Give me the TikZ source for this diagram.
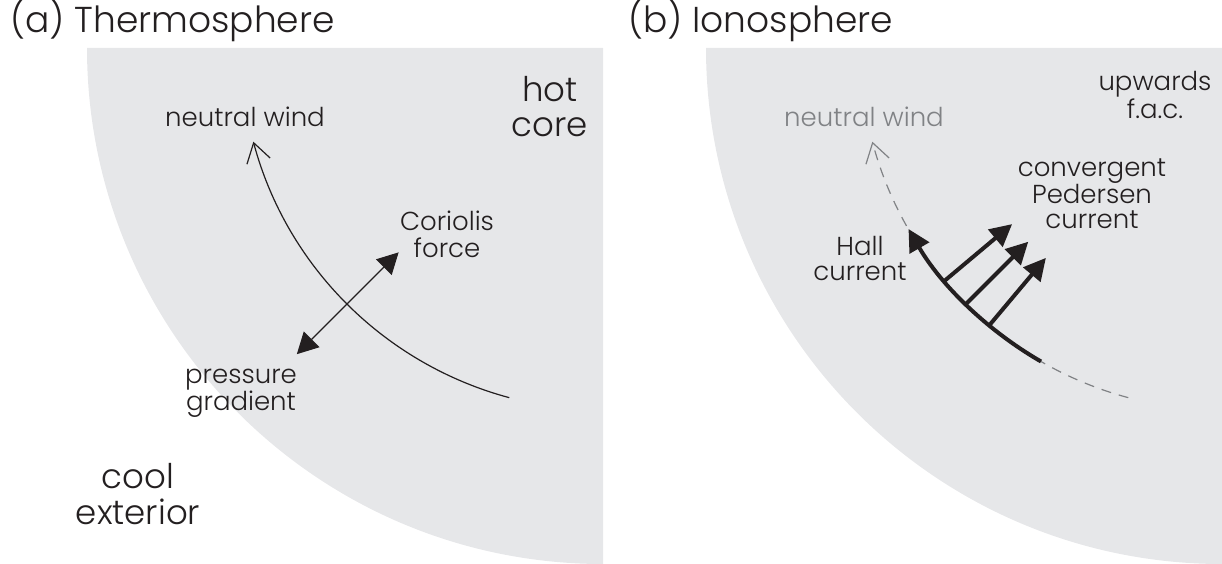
\documentclass[tikz,border=0pt]{standalone}
\usepackage{fontspec}
\setmainfont{Poppins Light}
\usetikzlibrary{arrows.meta,calc}
\definecolor{disc}{HTML}{E6E7E9}
\definecolor{ink}{HTML}{231F20}
\definecolor{faint}{HTML}{808285}
\newcommand{\lns}[1]{\begin{tabular}[t]{@{}c@{}}#1\end{tabular}}
\begin{document}
\begin{tikzpicture}[x=1pt,y=-1pt,
  lab/.style={inner sep=0pt, anchor=base, text=ink, font=\fontsize{26}{25}\selectfont},
  big/.style={lab, font=\fontsize{34}{35}\selectfont},
  ttl/.style={inner sep=0pt, anchor=base west, text=ink, font=\fontsize{36}{40}\selectfont},
  thinline/.style={draw=ink, line width=1.2pt},
  thickline/.style={draw=ink, line width=4pt},
  dashline/.style={draw=faint, line width=1.2pt, dash pattern=on 10pt off 8pt},
  fullhead/.style={-{Triangle[length=22pt,width=22pt]}},
  openhead/.style={-{Straight Barb[length=19pt,width=24pt,line width=1.2pt]}}
]
\useasboundingbox (0,0) rectangle (1222,564);
% centres of the two discs
\coordinate (Ca) at (603,48);
\coordinate (Cb) at (1222,48);
% grey quarter discs
\fill[disc] (87,48) arc[start angle=180, end angle=90, radius=516] -- (Ca) -- cycle;
\fill[disc] (706,48) arc[start angle=180, end angle=90, radius=516] -- (Cb) -- cycle;

% ---------- panel (a) ----------
\node[ttl] (ta) at (10,33) {(a) Thermosphere};
\node[lab] (nwa) at (245,127) {neutral wind};
\node[big] (hot) at (550,102) {\lns{hot\\core}};
\node[lab] (cor) at (447,230) {\lns{Coriolis\\force}};
\node[lab] (pre) at (241,383) {\lns{pressure\\gradient}};
\node[big] (cool) at (138,488) {\lns{cool\\exterior}};

\coordinate (wa1) at ($(Ca)+(105:362)$);
\draw[thinline, openhead] (wa1) arc[start angle=105, end angle=165, radius=362];
\coordinate (cf) at ($(Ca)+(135:289)$);
\coordinate (pg) at ($(Ca)+(135:433)$);
\draw[thinline, {Triangle[length=21pt,width=22pt]}-{Triangle[length=21pt,width=22pt]}] (pg) -- (cf);

% ---------- panel (b) ----------
\node[ttl] (tb) at (628,33) {(b) Ionosphere};
\node[lab, text=faint] (nwb) at (864,127) {neutral wind};
\node[lab] (up) at (1155,91) {\lns{upwards\\f.a.c.}};
\node[lab] (ped) at (1092,177) {\lns{convergent\\Pedersen\\current}};
\node[lab] (hall) at (860,255) {\lns{Hall\\current}};

\coordinate (wb1) at ($(Cb)+(105:362)$);
\draw[dashline, openhead] (wb1) arc[start angle=105, end angle=165, radius=362];
\coordinate (hb1) at ($(Cb)+(120:362)$);
\draw[thickline, fullhead] (hb1) arc[start angle=120, end angle=150, radius=362];
\foreach \a/\n in {140/1,135/2,130/3}{
  \coordinate (pb\n) at ($(Cb)+(\a:362)$);
  \coordinate (pt\n) at ($(Cb)+(\a:274)$);
  \draw[thickline, fullhead] (pb\n) -- (pt\n);
}
\end{tikzpicture}
\end{document}
